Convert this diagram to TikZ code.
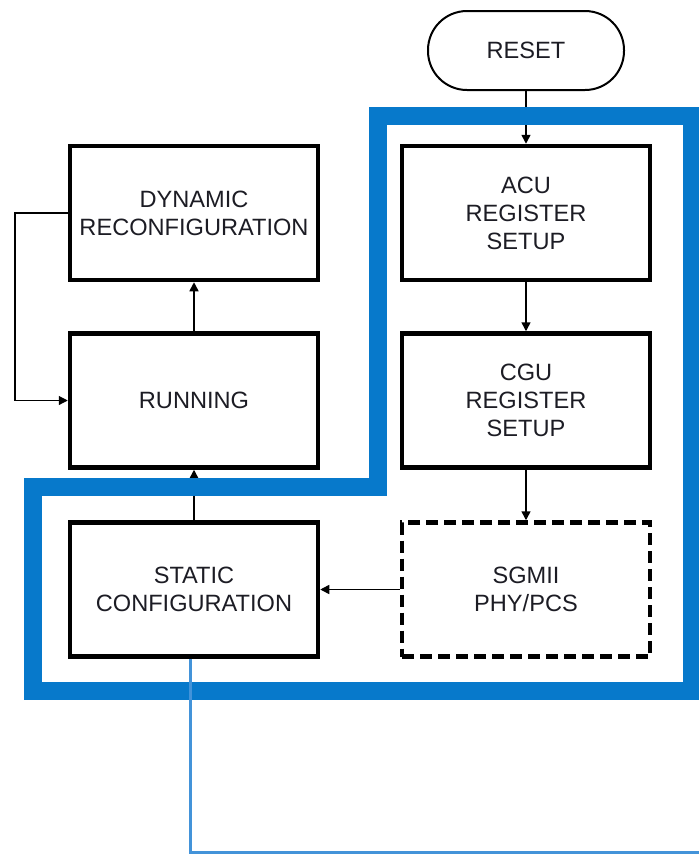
\documentclass[tikz,border=0pt]{standalone}
\usepackage{fontspec}
\setmainfont{Liberation Sans}
\usetikzlibrary{arrows.meta}
\definecolor{bandblue}{HTML}{0779CB}
\definecolor{wireblue}{HTML}{4393D9}
\definecolor{ink}{HTML}{1C1C24}
\tikzset{
  stepbox/.style={draw=black, line width=4.5pt, minimum width=248pt, minimum height=134pt,
    align=center, text=ink, font=\fontsize{23.6}{28}\selectfont},
  optbox/.style={stepbox, dash pattern=on 12pt off 6pt},
  terminal/.style={draw=black, line width=2pt, rounded corners=39pt, minimum width=196pt,
    minimum height=79pt, text=ink, font=\fontsize{23.6}{28}\selectfont},
  flow/.style={draw=black, line width=1.5pt, -{Triangle[length=9pt,width=9pt]}},
  loopwire/.style={draw=black, line width=1.2pt, -{Triangle[length=9pt,width=9pt]}},
  region/.style={draw=bandblue, line width=18pt, line join=miter},
  probe/.style={draw=wireblue, line width=3pt}
}
\begin{document}
\begin{tikzpicture}[x=1pt, y=-1pt]
  \useasboundingbox (0,0) rectangle (699,855);

  % left column
  \node[stepbox] (dyn) at (194,213) {DYNAMIC\\RECONFIGURATION};
  \node[stepbox] (run) at (194,400.5) {RUNNING};
  \node[stepbox] (stat) at (194,589.5) {STATIC\\CONFIGURATION};

  % right column
  \node[terminal] (reset) at (526,50.5) {RESET};
  \node[stepbox] (acu) at (526,213) {ACU\\REGISTER\\SETUP};
  \node[stepbox] (cgu) at (526,400.5) {CGU\\REGISTER\\SETUP};
  \node[optbox] (sgmii) at (526,589.5) {SGMII\\PHY/PCS};

  % control flow
  \draw[flow] (reset) -- (acu);
  \draw[flow] (acu) -- (cgu);
  \draw[flow] (cgu) -- (sgmii);
  \draw[flow] (sgmii) -- (stat);
  \draw[flow] (stat) -- (run);
  \draw[flow] (run) -- (dyn);

  % reconfiguration loop
  \coordinate (loopx) at (15,0);
  \draw[loopwire] (dyn.west) -- (dyn.west -| loopx) |- (run.west);

  % boot-time region outline
  \draw[region] (378,116) -- (692,116) -- (692,691) -- (33,691) -- (33,487) -- (378,487) -- cycle;

  % lead-out wire
  \coordinate (tail) at (699,852);
  \draw[probe] ([xshift=-4pt]stat.south) |- (tail);
\end{tikzpicture}
\end{document}
